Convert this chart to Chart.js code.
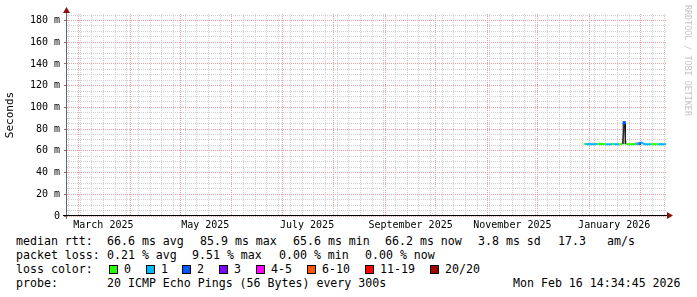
<!DOCTYPE html>
<html>
<head>
<meta charset="utf-8">
<script src="https://cdn.jsdelivr.net/npm/chart.js@4.4.1/dist/chart.umd.min.js"></script>
<style>
html, body { margin: 0; padding: 0; background: #fff; }
#wrap { position: relative; width: 697px; height: 297px; overflow: hidden; background: #fff; }
#chart { position: absolute; left: 0; top: 0; }
.t { position: absolute; font: 11.6px "DejaVu Sans Mono", monospace; color: #000; white-space: pre; line-height: 14px; }
.box { position: absolute; width: 9px; height: 9px; box-sizing: border-box; border: 1px solid #000; }
#wm { position: absolute; left: 683px; top: 5px; writing-mode: vertical-rl; font: 8.4px "DejaVu Sans Mono", monospace;
      line-height: 10px; color: #c4c4c4; white-space: pre; }
</style>
</head>
<body>
<div id="wrap">
  <canvas id="chart" width="697" height="232"></canvas>
  <div id="wm">RRDTOOL / TOBI OETIKER</div>
  <div id="legend"></div>
</div>
<script>
// x values are days since 1 Jan 2025
const X_MIN = 52.2;
const X_MAX = 411.61;          // Mon Feb 16 14:34:45 2026
const FIRST_SUNDAY = 53;       // 23 Feb 2025, weekly minor grid
const MONTH_START_DAYS = [59, 90, 120, 151, 181, 212, 243, 273, 304, 334, 365, 396];
const LABEL_DAYS = [74, 135, 196, 258, 319, 380];
const LABEL_TEXT = ["March 2025", "May 2025", "July 2025", "September 2025", "November 2025", "January 2026"];

const Y_MAX = 186;
const Y_MINOR = 5;
const Y_MAJOR = 20;

// median rtt (ms), one value per day starting at FIRST_DAY (29 Dec 2025)
const FIRST_DAY = 362;
const medianMs = [
    66.3, 66.2, 66.1, 66.2, 66.1, 66.0, 66.1, 66.2, 66.3, 66.5,
    66.4, 66.3, 66.2, 66.1, 66.0, 66.1, 66.1, 66.2, 66.3, 66.1,
    66.0, 66.1, 66.3, 66.6, 85.9, 66.5, 66.2, 66.1, 66.1, 66.2,
    66.1, 66.3, 66.5, 66.6, 68.0, 66.9, 66.3, 66.1, 66.0, 66.1,
    66.0, 66.1, 66.2, 66.1, 66.0, 66.1, 66.2, 66.1, 66.1, 66.2,
];
// lost pings out of 20 for the same days
const lostPings = [
    0, 0, 1, 1, 1, 1, 1, 1, 1, 0,
    0, 0, 0, 0, 1, 1, 1, 1, 0, 1,
    1, 1, 0, 0, 2, 0, 0, 0, 0, 0,
    0, 0, 1, 1, 2, 1, 1, 1, 1, 1,
    1, 0, 0, 0, 0, 1, 1, 1, 1, 1,
];

// smoke (spread of the 20 pings), only where it shows
const smokeDay = [365, 366, 367, 372, 386, 393, 394, 395];
const smokeLow = [66.2, 66.2, 66.2, 65.6, 66.0, 66.3, 66.3, 65.8];
const smokeHigh = [67.3, 67.4, 67.2, 67.0, 85.9, 67.8, 67.9, 67.2];
const smokeShade = ["#d9d9d9", "#d4d4d4", "#dcdcdc", "#333333", "#9a9a9a", "#d6d6d6", "#d2d2d2", "#333333"];

const LOSS_LABELS = ["0", "1", "2", "3", "4-5", "6-10", "11-19", "20/20"];
const LOSS_COLORS = ["#26ff00", "#00b8ff", "#0059ff", "#7e00ff", "#ff00ff", "#ff5500", "#ff0000", "#a10000"];

const FONT = "DejaVu Sans Mono";
const MAJOR_GRID = "#e8a0a0";
const MINOR_GRID = "#cfcfcf";

function lossBucket(n) {
    if (n <= 3) return n;
    if (n <= 5) return 4;
    if (n <= 10) return 5;
    if (n <= 19) return 6;
    return 7;
}

const medianPoints = medianMs.map((v, i) => ({ x: FIRST_DAY + i, y: v }));
const smokeBars = smokeDay.map((d, i) => ({ x: d, y: [smokeLow[i], smokeHigh[i]] }));
const spikeIndex = medianMs.indexOf(Math.max(...medianMs));

function buildXTicks() {
    const set = new Set();
    for (let d = FIRST_SUNDAY; d <= X_MAX; d += 7) set.add(d);
    MONTH_START_DAYS.forEach(d => { if (d >= X_MIN && d <= X_MAX) set.add(d); });
    LABEL_DAYS.forEach(d => set.add(d));
    return [...set].sort((a, b) => a - b).map(v => ({ value: v }));
}

function xGridColor(v) {
    if (MONTH_START_DAYS.includes(v)) return MAJOR_GRID;
    if ((v - FIRST_SUNDAY) % 7 === 0) return MINOR_GRID;
    return "rgba(0,0,0,0)";
}

const axesPlugin = {
    id: "rrdAxes",
    afterDraw(chart) {
        const { ctx, chartArea: a } = chart;
        ctx.save();
        ctx.lineWidth = 1;
        ctx.strokeStyle = "#666";
        ctx.beginPath();
        ctx.moveTo(a.left - 0.5, a.bottom + 3);
        ctx.lineTo(a.left - 0.5, a.top - 2);
        ctx.stroke();
        ctx.strokeStyle = "#000";
        ctx.beginPath();
        ctx.moveTo(a.left - 4, a.bottom - 0.5);
        ctx.lineTo(a.right + 2, a.bottom - 0.5);
        ctx.stroke();
        ctx.fillStyle = "#8b1010";
        ctx.beginPath();
        ctx.moveTo(a.left - 0.5, a.top - 7);
        ctx.lineTo(a.left - 4, a.top - 1);
        ctx.lineTo(a.left + 3, a.top - 1);
        ctx.closePath();
        ctx.fill();
        ctx.beginPath();
        ctx.moveTo(a.right + 6, a.bottom - 0.5);
        ctx.lineTo(a.right, a.bottom - 4);
        ctx.lineTo(a.right, a.bottom + 3);
        ctx.closePath();
        ctx.fill();
        ctx.restore();
    },
};

new Chart(document.getElementById("chart").getContext("2d"), {
    type: "line",
    data: {
        datasets: [
            {
                label: "median rtt",
                data: medianPoints,
                borderWidth: 2,
                tension: 0,
                order: 1,
                pointRadius: ctx => (ctx.dataIndex === spikeIndex ? 2.3 : 0),
                pointStyle: "rect",
                pointBorderWidth: 0,
                pointBackgroundColor: ctx => LOSS_COLORS[lossBucket(lostPings[ctx.dataIndex])],
                segment: {
                    borderColor: ctx => {
                        if (Math.abs(ctx.p1.parsed.y - ctx.p0.parsed.y) > 5) return "#222";
                        return LOSS_COLORS[lossBucket(lostPings[ctx.p1DataIndex])];
                    },
                    borderWidth: ctx => (Math.abs(ctx.p1.parsed.y - ctx.p0.parsed.y) > 5 ? 1 : 2),
                },
            },
            {
                type: "bar",
                label: "smoke",
                data: smokeBars,
                order: 2,
                barThickness: 3,
                backgroundColor: ctx => smokeShade[ctx.dataIndex],
                borderColor: "#000",
                borderSkipped: false,
                borderWidth: ctx => (smokeHigh[ctx.dataIndex] > 80 ? { left: 1, right: 1, top: 0, bottom: 0 } : 0),
            },
        ],
    },
    options: {
        responsive: false,
        animation: false,
        events: [],
        layout: { padding: { top: 14, right: 30, bottom: 0, left: 0 } },
        plugins: { legend: { display: false }, tooltip: { enabled: false } },
        scales: {
            x: {
                type: "linear",
                min: X_MIN,
                max: X_MAX,
                offset: false,
                afterBuildTicks: s => { s.ticks = buildXTicks(); },
                afterFit: s => { s.height = 16; },
                border: { display: false, dash: [1, 1] },
                grid: {
                    offset: false,
                    drawTicks: false,
                    color: ctx => (ctx.tick ? xGridColor(ctx.tick.value) : "rgba(0,0,0,0)"),
                },
                ticks: {
                    autoSkip: false,
                    maxRotation: 0,
                    minRotation: 0,
                    padding: 3,
                    color: "#000",
                    font: { family: FONT, size: 10 },
                    callback: v => {
                        const i = LABEL_DAYS.indexOf(v);
                        return i >= 0 ? LABEL_TEXT[i] : "";
                    },
                },
            },
            y: {
                type: "linear",
                min: 0,
                max: Y_MAX,
                afterBuildTicks: s => {
                    const t = [];
                    for (let v = 0; v <= Y_MAX; v += Y_MINOR) t.push({ value: v });
                    s.ticks = t;
                },
                afterFit: s => { s.width = 67; },
                border: { display: false, dash: [1, 1] },
                grid: {
                    tickLength: 3,
                    color: ctx => (ctx.tick && ctx.tick.value % Y_MAJOR === 0 ? MAJOR_GRID : MINOR_GRID),
                    tickColor: ctx => (ctx.tick && ctx.tick.value % Y_MAJOR === 0 ? "#777" : "rgba(0,0,0,0)"),
                },
                ticks: {
                    autoSkip: false,
                    padding: 4,
                    color: "#000",
                    font: { family: FONT, size: 10 },
                    callback: v => (v % Y_MAJOR !== 0 ? "" : v === 0 ? "0" : v + " m"),
                },
                title: {
                    display: true,
                    text: "Seconds",
                    color: "#000",
                    font: { family: FONT, size: 11 },
                    padding: { top: 4, bottom: 0 },
                },
            },
        },
    },
    plugins: [axesPlugin],
});

// text legend below the graph, as rrdtool prints it
const legendRows = [
    { y: 234, items: [[16, "median rtt:"], [107, "66.6 ms avg"], [200, "85.9 ms max"], [293, "65.6 ms min"],
                      [385, "66.2 ms now"], [478, "3.8 ms sd"], [558, "17.3"], [607, "am/s"]] },
    { y: 248, items: [[16, "packet loss:"], [107, "0.21 % avg"], [192, "9.51 % max"], [279, "0.00 % min"],
                      [365, "0.00 % now"]] },
    { y: 262, items: [[16, "loss color:"]] },
    { y: 276, items: [[16, "probe:"], [107, "20 ICMP Echo Pings (56 Bytes) every 300s"], [513, "Mon Feb 16 14:34:45 2026"]] },
];
const boxX = [109, 146, 182, 219, 256, 307, 365, 430];
const legend = document.getElementById("legend");
legendRows.forEach(row => {
    row.items.forEach(([x, text]) => {
        const el = document.createElement("div");
        el.className = "t";
        el.style.left = x + "px";
        el.style.top = row.y + "px";
        el.textContent = text;
        legend.appendChild(el);
    });
});
LOSS_LABELS.forEach((label, i) => {
    const b = document.createElement("div");
    b.className = "box";
    b.style.left = boxX[i] + "px";
    b.style.top = "265px";
    b.style.background = LOSS_COLORS[i];
    legend.appendChild(b);
    const t = document.createElement("div");
    t.className = "t";
    t.style.left = (boxX[i] + 15) + "px";
    t.style.top = "262px";
    t.textContent = label;
    legend.appendChild(t);
});
</script>
</body>
</html>
